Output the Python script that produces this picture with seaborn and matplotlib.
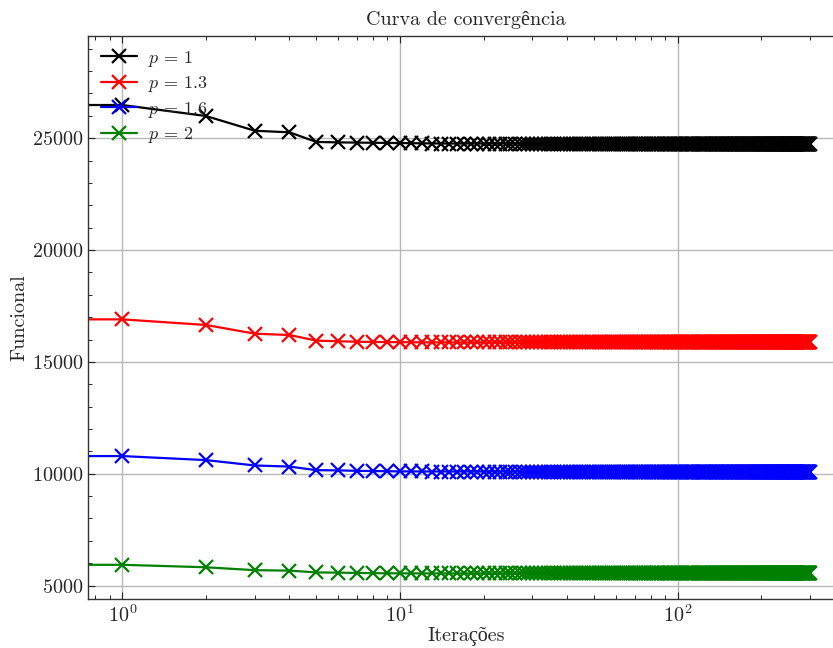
import numpy as np
import pandas as pd
import matplotlib
matplotlib.use("Agg")
import matplotlib.pyplot as plt
from matplotlib.ticker import AutoMinorLocator
import seaborn as sns

# Objective value per iteration for each exponent p (iteration 0 = initial guess)
p_labels = [r"$p\,=\,1$", r"$p\,=\,1.3$", r"$p\,=\,1.6$", r"$p\,=\,2$"]
colors = ["black", "red", "blue", "green"]

f_p1 = [28420, 26480, 25990, 25330, 25260, 24830, 24810, 24800, 24790, 24780,
        24775, 24770, 24765] + [24760] * 287
f_p13 = [18300, 16900, 16650, 16260, 16200, 15950, 15920, 15900, 15890, 15885,
         15880, 15878, 15875] + [15870] * 287
f_p16 = [11500, 10790, 10610, 10370, 10320, 10160, 10150, 10130, 10120, 10110,
         10105, 10103, 10101] + [10100] * 287
f_p2 = [6300, 5930, 5820, 5690, 5670, 5590, 5580, 5565, 5555, 5550,
        5548, 5546, 5545] + [5545] * 287
series = [f_p1, f_p13, f_p16, f_p2]

sns.set_theme(style="ticks")
plt.rcParams.update({
    "font.family": ["cmr10", "Liberation Serif", "DejaVu Serif"],
    "mathtext.fontset": "cm",
    "axes.formatter.use_mathtext": True,
    "font.size": 14.5,
    "axes.titlesize": 14.5,
    "axes.labelsize": 14.5,
    "xtick.labelsize": 14.5,
    "ytick.labelsize": 14.5,
    "legend.fontsize": 13,
    "axes.linewidth": 1.0,
    "axes.edgecolor": "#333333",
    "xtick.direction": "in",
    "ytick.direction": "in",
    "xtick.top": True,
    "ytick.right": True,
    "xtick.major.size": 5,
    "ytick.major.size": 5,
    "xtick.minor.size": 2.8,
    "ytick.minor.size": 2.8,
    "xtick.major.width": 0.8,
    "ytick.major.width": 0.8,
    "xtick.minor.width": 0.7,
    "ytick.minor.width": 0.7,
    "xtick.minor.visible": True,
    "ytick.minor.visible": True,
})

fig = plt.figure(figsize=(8.33, 6.48), dpi=100)
ax = fig.add_axes([0.1056, 0.0756, 0.9076, 0.8688])

for label, color, vals in zip(p_labels, colors, series):
    df = pd.DataFrame({"iter": np.arange(len(vals)), "f": vals})
    sns.lineplot(data=df, x="iter", y="f", ax=ax, color=color, marker="x",
                 markersize=10, markeredgewidth=1.6, markeredgecolor=color,
                 linewidth=1.6, label=label, estimator=None, sort=False)

ax.set_xscale("log")
ax.yaxis.set_minor_locator(AutoMinorLocator(5))
ax.grid(True, which="major", color="#b8b8b8", linewidth=1.0)
ax.set_axisbelow(True)

ax.set_title("Curva de convergência", pad=8)
ax.set_xlabel("Iterações", labelpad=1)
ax.set_ylabel("Funcional", labelpad=2)
ax.legend(loc="upper left", frameon=False, handlelength=2.0,
          handletextpad=0.65, labelspacing=0.3, borderaxespad=0.3)

fig.savefig("out.png", dpi=100)
